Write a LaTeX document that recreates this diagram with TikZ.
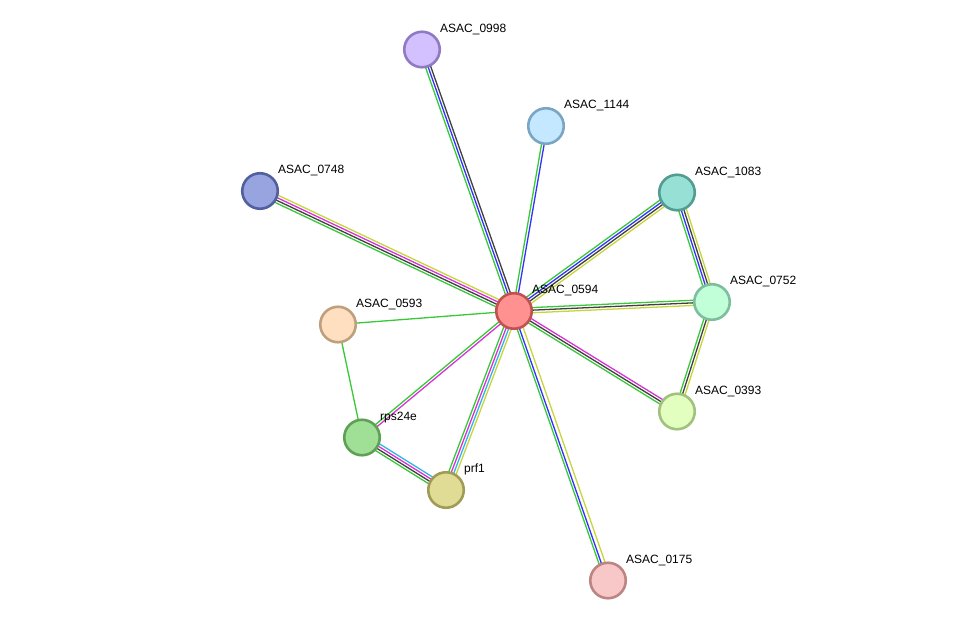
\documentclass[tikz,border=0pt]{standalone}
\usepackage{fontspec}
\setmainfont{Liberation Sans}
\usetikzlibrary{calc}
\pgfdeclarelayer{edges}
\pgfsetlayers{edges,main}
\definecolor{eg}{RGB}{56,200,56}
\definecolor{eb}{RGB}{50,50,250}
\definecolor{ek}{RGB}{64,64,64}
\definecolor{ey}{RGB}{200,212,60}
\definecolor{em}{RGB}{214,50,214}
\definecolor{ec}{RGB}{50,180,230}
\definecolor{f0594}{RGB}{255,145,145}\definecolor{d0594}{RGB}{192,82,82}
\definecolor{f0998}{RGB}{210,192,255}\definecolor{d0998}{RGB}{144,122,196}
\definecolor{f1144}{RGB}{195,232,255}\definecolor{d1144}{RGB}{122,166,196}
\definecolor{f0748}{RGB}{152,164,224}\definecolor{d0748}{RGB}{82,96,160}
\definecolor{f1083}{RGB}{150,224,214}\definecolor{d1083}{RGB}{82,156,146}
\definecolor{f0752}{RGB}{192,255,216}\definecolor{d0752}{RGB}{126,190,156}
\definecolor{f0593}{RGB}{255,223,192}\definecolor{d0593}{RGB}{190,160,126}
\definecolor{f0393}{RGB}{226,255,192}\definecolor{d0393}{RGB}{162,192,126}
\definecolor{frps}{RGB}{160,224,150}\definecolor{drps}{RGB}{96,160,86}
\definecolor{fprf}{RGB}{224,220,150}\definecolor{dprf}{RGB}{160,156,86}
\definecolor{f0175}{RGB}{248,200,200}\definecolor{d0175}{RGB}{190,132,132}
\tikzset{
  prot/.style={circle,minimum size=35.5pt,inner sep=0pt,line width=2.6pt,fill=f#1,draw=d#1},
  lab/.style={anchor=base west,inner sep=0pt,font=\fontsize{12}{14}\selectfont,text=black},
  ed/.style={line width=1.3pt}
}
\newcommand\sedge[3]{\foreach \o/\c in {#3}{\draw[ed,\c] ($(#1)!\o!90:(#2)$) -- ($(#2)!\o!-90:(#1)$);}}
\begin{document}
\begin{tikzpicture}[x=1pt,y=-1pt]
\useasboundingbox (0,0) rectangle (976,626);
\node[prot=0594] (n0594) at (514,311) {};
\node[prot=0998] (n0998) at (422,49.5) {};
\node[prot=1144] (n1144) at (546,126) {};
\node[prot=0748] (n0748) at (260,191) {};
\node[prot=1083] (n1083) at (677,192.5) {};
\node[prot=0752] (n0752) at (712,302) {};
\node[prot=0593] (n0593) at (338,324.5) {};
\node[prot=0393] (n0393) at (677,411.5) {};
\node[prot=rps] (nrps) at (362,437.5) {};
\node[prot=prf] (nprf) at (446,490) {};
\node[prot=0175] (n0175) at (608,580.5) {};
\node[lab] (l0594) at ($(n0594)+(18,-17.4)$) {ASAC\_0594};
\node[lab] (l0998) at ($(n0998)+(18,-17.4)$) {ASAC\_0998};
\node[lab] (l1144) at ($(n1144)+(18,-17.4)$) {ASAC\_1144};
\node[lab] (l0748) at ($(n0748)+(18,-17.4)$) {ASAC\_0748};
\node[lab] (l1083) at ($(n1083)+(18,-17.4)$) {ASAC\_1083};
\node[lab] (l0752) at ($(n0752)+(18,-17.4)$) {ASAC\_0752};
\node[lab] (l0593) at ($(n0593)+(18,-17.4)$) {ASAC\_0593};
\node[lab] (l0393) at ($(n0393)+(18,-17.4)$) {ASAC\_0393};
\node[lab] (lrps) at ($(nrps)+(18,-17.4)$) {rps24e};
\node[lab] (lprf) at ($(nprf)+(18,-17.4)$) {prf1};
\node[lab] (l0175) at ($(n0175)+(18,-17.4)$) {ASAC\_0175};
\begin{pgfonlayer}{edges}
\sedge{n0594}{n0998}{2.6pt/eg,0pt/eb,-2.6pt/ek}
\sedge{n0594}{n1144}{1.3pt/eg,-1.3pt/eb}
\sedge{n0594}{n0748}{3.9pt/eg,1.3pt/ek,-1.3pt/em,-3.9pt/ey}
\sedge{n0594}{n1083}{3.9pt/eg,1.3pt/eb,-1.3pt/ek,-3.9pt/ey}
\sedge{n0594}{n0752}{2.6pt/eg,0pt/ek,-2.6pt/ey}
\sedge{n1083}{n0752}{3.9pt/ey,1.3pt/ek,-1.3pt/eb,-3.9pt/eg}
\sedge{n0752}{n0393}{2.6pt/ey,0pt/ek,-2.6pt/eg}
\sedge{n0594}{n0393}{2.6pt/em,0pt/ek,-2.6pt/eg}
\sedge{n0594}{n0175}{3.2pt/ey,-0.6pt/eb,-3.0pt/eg}
\sedge{n0594}{n0593}{0pt/eg}
\sedge{n0593}{nrps}{0pt/eg}
\sedge{n0594}{nrps}{1.3pt/em,-1.3pt/eg}
\sedge{n0594}{nprf}{3.9pt/ey,1.3pt/ec,-1.3pt/em,-3.9pt/eg}
\sedge{nrps}{nprf}{3.9pt/ec,1.3pt/em,-1.3pt/ek,-3.9pt/eg}
\end{pgfonlayer}
\end{tikzpicture}
\end{document}
